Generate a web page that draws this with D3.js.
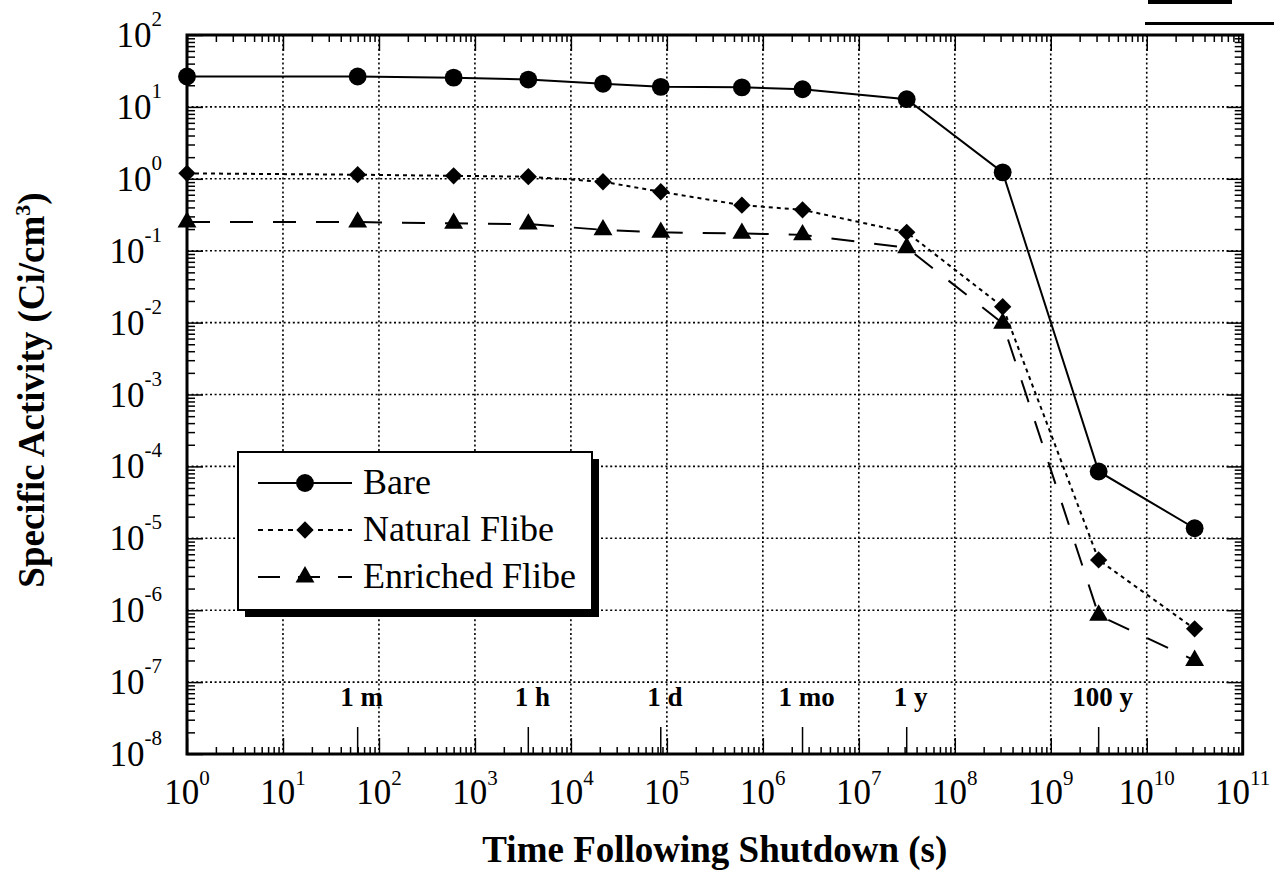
<!DOCTYPE html>
<html>
<head>
<meta charset="utf-8">
<script src="https://cdn.jsdelivr.net/npm/d3@7"></script>
<style>
  body { margin: 0; background: #fff; }
  svg { display: block; }
  text { font-family: "Liberation Serif", "Times New Roman", serif; fill: #000; }
</style>
</head>
<body>
<svg id="chart" width="1274" height="875"></svg>
<script>
// time after shutdown (s)
const times = [1, 60, 600, 3600, 21600, 86400, 604800, 2.592e6, 3.156e7, 3.156e8, 3.156e9, 3.156e10];
// specific activity (Ci/cm3)
const bare = [26.5, 26.5, 25.5, 24, 21, 19, 18.7, 17.6, 12.8, 1.23, 8.5e-5, 1.38e-5];
const natural = [1.19, 1.14, 1.1, 1.07, 0.91, 0.66, 0.43, 0.37, 0.18, 0.0166, 5.0e-6, 5.5e-7];
const enriched = [0.25, 0.25, 0.24, 0.234, 0.195, 0.18, 0.174, 0.166, 0.11, 0.0098, 8.5e-7, 2.0e-7];

const seriesNames = ["Bare", "Natural Flibe", "Enriched Flibe"];

const markTimes = [60, 3600, 86400, 2.592e6, 3.156e7, 3.156e9];
const markLabels = ["1 m", "1 h", "1 d", "1 mo", "1 y", "100 y"];

const xExp = d3.range(0, 12);
const yExp = d3.range(-8, 3);

const svg = d3.select("#chart");
const pLeft = 187, pRight = 1242.7, pTop = 35, pBottom = 754;

const x = d3.scaleLog().domain([1, 1e11]).range([pLeft, pRight]);
const y = d3.scaleLog().domain([1e-8, 1e2]).range([pBottom, pTop]);

// minor ticks 2..9 in each decade
const minorX = d3.range(0, 11).flatMap(e => d3.range(2, 10).map(k => k * Math.pow(10, e)));
const minorY = d3.range(-8, 2).flatMap(e => d3.range(2, 10).map(k => k * Math.pow(10, e)));
const majorX = xExp.map(e => Math.pow(10, e));
const majorY = yExp.map(e => Math.pow(10, e));

// grid
const grid = svg.append("g").attr("stroke", "#000").attr("stroke-width", 1.6).attr("stroke-dasharray", "2,2.6");
grid.selectAll("line.gx").data(majorX.slice(1, -1)).join("line")
  .attr("x1", d => x(d)).attr("x2", d => x(d)).attr("y1", pTop).attr("y2", pBottom);
grid.selectAll("line.gy").data(majorY.slice(1, -1)).join("line")
  .attr("y1", d => y(d)).attr("y2", d => y(d)).attr("x1", pLeft).attr("x2", pRight);

// axes, ticks pointing inward
function tickAxes(axisFn, scale, vals, size, transform) {
  svg.append("g")
    .attr("transform", transform)
    .call(axisFn(scale).tickValues(vals).tickSize(size).tickFormat(""))
    .call(g => g.select(".domain").remove())
    .call(g => g.selectAll("line").attr("stroke-width", 1.5));
}
tickAxes(d3.axisBottom, x, minorX, -7, `translate(0,${pBottom})`);
tickAxes(d3.axisBottom, x, majorX, -16, `translate(0,${pBottom})`);
tickAxes(d3.axisTop, x, minorX, -7, `translate(0,${pTop})`);
tickAxes(d3.axisTop, x, majorX, -16, `translate(0,${pTop})`);
tickAxes(d3.axisLeft, y, minorY, -8, `translate(${pLeft},0)`);
tickAxes(d3.axisLeft, y, majorY, -16, `translate(${pLeft},0)`);
tickAxes(d3.axisRight, y, minorY, -8, `translate(${pRight},0)`);
tickAxes(d3.axisRight, y, majorY, -16, `translate(${pRight},0)`);

// time marks on bottom axis
svg.append("g").selectAll("line").data(markTimes).join("line")
  .attr("x1", d => x(d)).attr("x2", d => x(d))
  .attr("y1", pBottom).attr("y2", pBottom - 27)
  .attr("stroke", "#000").attr("stroke-width", 1.5);
svg.append("g").selectAll("text").data(markTimes).join("text")
  .attr("x", d => x(d) + 4).attr("y", 706)
  .attr("text-anchor", "middle")
  .attr("font-size", 27).attr("font-weight", "bold")
  .text((d, i) => markLabels[i]);

// frame
svg.append("rect").attr("x", pLeft).attr("y", pTop)
  .attr("width", pRight - pLeft).attr("height", pBottom - pTop)
  .attr("fill", "none").attr("stroke", "#000").attr("stroke-width", 3);

// tick labels
const xl = svg.append("g").selectAll("text").data(xExp).join("text")
  .attr("x", d => x(Math.pow(10, d)))
  .attr("y", 804)
  .attr("text-anchor", "middle")
  .attr("font-size", 35);
xl.append("tspan").text("10");
xl.append("tspan").attr("dy", -19).attr("font-size", 21).text(d => d);

const yl = svg.append("g").selectAll("text").data(yExp).join("text")
  .attr("x", 162)
  .attr("y", d => y(Math.pow(10, d)) + 12)
  .attr("text-anchor", "end")
  .attr("font-size", 35);
yl.append("tspan").text("10");
yl.append("tspan").attr("dy", -21).attr("font-size", 21).text(d => d);

// axis titles
svg.append("text")
  .attr("x", (pLeft + pRight) / 2).attr("y", 862)
  .attr("text-anchor", "middle")
  .attr("font-size", 37).attr("font-weight", "bold")
  .text("Time Following Shutdown (s)");

const yt = svg.append("text")
  .attr("transform", `translate(44,390) rotate(-90)`)
  .attr("text-anchor", "middle")
  .attr("font-size", 37).attr("font-weight", "bold");
yt.append("tspan").text("Specific Activity (Ci/cm");
yt.append("tspan").attr("dy", -14).attr("font-size", 22).text("3");
yt.append("tspan").attr("dy", 14).text(")");

// series
const series = [
  { name: seriesNames[0], values: bare, dash: null, symbol: d3.symbolCircle, size: 250, rot: 0 },
  { name: seriesNames[1], values: natural, dash: "4,4", symbol: d3.symbolSquare, size: 150, rot: 45 },
  { name: seriesNames[2], values: enriched, dash: "23,20", symbol: d3.symbolTriangle, size: 155, rot: 0 }
];

const line = d3.line().x(d => x(d[0])).y(d => y(d[1]));

series.forEach(s => {
  const pts = times.map((t, i) => [t, s.values[i]]);
  svg.append("path")
    .attr("d", line(pts))
    .attr("fill", "none").attr("stroke", "#000").attr("stroke-width", 2)
    .attr("stroke-dasharray", s.dash);
  svg.append("g").selectAll("path").data(pts).join("path")
    .attr("transform", d => `translate(${x(d[0])},${y(d[1])}) rotate(${s.rot})`)
    .attr("d", d3.symbol().type(s.symbol).size(s.size)());
});

// legend
const lg = svg.append("g");
const lx = 238, ly = 452, lw = 354, lh = 158;
lg.append("rect").attr("x", lx + 7).attr("y", ly + 7).attr("width", lw).attr("height", lh).attr("fill", "#000");
lg.append("rect").attr("x", lx).attr("y", ly).attr("width", lw).attr("height", lh)
  .attr("fill", "#fff").attr("stroke", "#000").attr("stroke-width", 2);
series.forEach((s, i) => {
  const ry = 483 + i * 47;
  lg.append("line").attr("x1", 258).attr("x2", 352).attr("y1", ry).attr("y2", ry)
    .attr("stroke", "#000").attr("stroke-width", 2).attr("stroke-dasharray", s.dash ? (i === 1 ? "5,5" : "22,18") : null);
  lg.append("path")
    .attr("transform", `translate(305,${ry}) rotate(${s.rot})`)
    .attr("d", d3.symbol().type(s.symbol).size(s.size)());
  lg.append("text").attr("x", 363).attr("y", ry + 11).attr("font-size", 36).text(s.name);
});

// scan marks at the top right of the page
svg.append("rect").attr("x", 1148).attr("y", 0).attr("width", 84).attr("height", 4).attr("fill", "#000");
svg.append("rect").attr("x", 1145).attr("y", 22).attr("width", 129).attr("height", 3).attr("fill", "#000");
</script>
</body>
</html>
